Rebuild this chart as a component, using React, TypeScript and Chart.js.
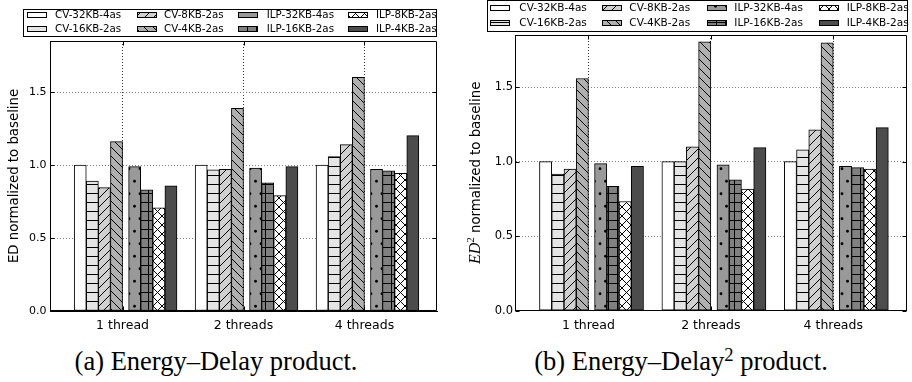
import React, { useEffect, useRef } from 'react';
import { Chart, registerables } from 'chart.js';

Chart.register(...registerables);

// ---------- data ----------
const categories = ['1 thread', '2 threads', '4 threads'];
const seriesLabels = [
  'CV-32KB-4as', 'CV-16KB-2as', 'CV-8KB-2as', 'CV-4KB-2as',
  'ILP-32KB-4as', 'ILP-16KB-2as', 'ILP-8KB-2as', 'ILP-4KB-2as',
];
const yTickValues = [0, 0.5, 1.0, 1.5];
const yMax = 1.85;

// Energy-Delay product (ED)
const edCV32 = [1.0, 1.0, 1.0];
const edCV16 = [0.89, 0.968, 1.058];
const edCV8 = [0.845, 0.97, 1.14];
const edCV4 = [1.161, 1.388, 1.601];
const edILP32 = [0.989, 0.979, 0.97];
const edILP16 = [0.83, 0.879, 0.961];
const edILP8 = [0.707, 0.791, 0.943];
const edILP4 = [0.858, 0.989, 1.202];

// Energy-Delay^2 product (ED2)
const ed2CV32 = [1.0, 1.0, 1.0];
const ed2CV16 = [0.917, 1.0, 1.079];
const ed2CV8 = [0.951, 1.099, 1.213];
const ed2CV4 = [1.558, 1.805, 1.798];
const ed2ILP32 = [0.987, 0.978, 0.969];
const ed2ILP16 = [0.834, 0.879, 0.96];
const ed2ILP8 = [0.733, 0.816, 0.951];
const ed2ILP4 = [0.969, 1.094, 1.229];

const edSeries = [edCV32, edCV16, edCV8, edCV4, edILP32, edILP16, edILP8, edILP4];
const ed2Series = [ed2CV32, ed2CV16, ed2CV8, ed2CV4, ed2ILP32, ed2ILP16, ed2ILP8, ed2ILP4];

// ---------- styles ----------
const fills = ['#ffffff', '#e5e5e5', '#d0d0d0', '#b0b0b0', '#999999', '#808080', '#ffffff', '#4c4c4c'];
const hatches = ['', '-', '/', '\\', '.', '+', 'x', ''];
const SANS = '"DejaVu Sans", sans-serif';
const SERIF = '"Liberation Serif", "DejaVu Serif", serif';

function barOffset(k: number): number {
  return k < 4 ? -0.35 + 0.1 * k : 0.1 + 0.1 * (k - 4);
}

function makeHatch(ctx: CanvasRenderingContext2D, kind: string, bg: string): CanvasPattern | string {
  if (!kind) return bg;
  let w = 9, h = 9;
  if (kind === '.') { w = 11; h = 25; }
  const c = document.createElement('canvas');
  c.width = w; c.height = h;
  const g = c.getContext('2d')!;
  g.fillStyle = bg; g.fillRect(0, 0, w, h);
  g.strokeStyle = '#000'; g.fillStyle = '#000'; g.lineWidth = 1;
  const slash = () => {
    g.beginPath();
    g.moveTo(-1, h + 1); g.lineTo(w + 1, -1);
    g.moveTo(-2, 2); g.lineTo(2, -2);
    g.moveTo(w - 2, h + 2); g.lineTo(w + 2, h - 2);
    g.stroke();
  };
  const back = () => {
    g.beginPath();
    g.moveTo(-1, -1); g.lineTo(w + 1, h + 1);
    g.moveTo(w - 2, -2); g.lineTo(w + 2, 2);
    g.moveTo(-2, h - 2); g.lineTo(2, h + 2);
    g.stroke();
  };
  if (kind === '-') g.fillRect(0, 4, w, 1);
  else if (kind === '+') { g.fillRect(0, 4, w, 1); g.fillRect(4, 0, 1, h); }
  else if (kind === '/') slash();
  else if (kind === '\\') back();
  else if (kind === 'x') { slash(); back(); }
  else if (kind === '.') {
    g.beginPath(); g.arc(2.5, 6.25, 1.4, 0, Math.PI * 2); g.fill();
    g.beginPath(); g.arc(8, 18.75, 1.4, 0, Math.PI * 2); g.fill();
  }
  return ctx.createPattern(c, 'repeat') || bg;
}

type PanelCfg = {
  left: number; width: number; height: number;
  area: { left: number; top: number; right: number; bottom: number };
  series: number[][];
  legend: { box: number[]; swatchX: number[]; textX: number[]; rowY: number[]; font: number };
  titleX: number;
  squared: boolean;
  yTickFont: number;
  yTickPad: number;
};

const leftCfg: PanelCfg = {
  left: 0, width: 460, height: 340,
  area: { left: 50, top: 41, right: 437, bottom: 311 },
  series: edSeries,
  legend: { box: [22.7, 8.5, 436, 35.5], swatchX: [27.3, 137.3, 238.3, 347.7], textX: [55, 164, 266.7, 376], rowY: [14.8, 28.6], font: 10.3 },
  titleX: 12.5,
  squared: false,
  yTickFont: 11,
  yTickPad: 3.5,
};

const rightCfg: PanelCfg = {
  left: 460, width: 452, height: 340,
  area: { left: 55, top: 35, right: 446.7, bottom: 310.7 },
  series: ed2Series,
  legend: { box: [26.7, 0, 446.7, 30.7], swatchX: [30, 141.7, 246.7, 359], textX: [59.3, 169.3, 274.3, 386.7], rowY: [7.5, 22.5], font: 10.5 },
  titleX: 15,
  squared: true,
  yTickFont: 11.5,
  yTickPad: 2,
};

function Panel({ cfg }: { cfg: PanelCfg }) {
  const ref = useRef<HTMLCanvasElement>(null);
  useEffect(() => {
    const canvas = ref.current!;
    const ctx = canvas.getContext('2d')!;
    const a = cfg.area;
    const pxPerUnit = (a.right - a.left) / 3.2;
    const patterns = seriesLabels.map((_, k) => makeHatch(ctx, hatches[k], fills[k]));

    const datasets = seriesLabels.map((label, k) => ({
      label,
      data: cfg.series[k].map((v, i) => ({ x: i + barOffset(k), y: v })),
      backgroundColor: patterns[k] as any,
      borderColor: '#000',
      borderWidth: 1,
      borderSkipped: false as any,
      barThickness: pxPerUnit * 0.1,
      grouped: false,
    }));

    const framePlugin = {
      id: 'frame',
      afterDatasetsDraw(chart: any) {
        const c = chart.ctx as CanvasRenderingContext2D;
        const ca = chart.chartArea;
        const L = Math.round(ca.left) + 0.5, R = Math.round(ca.right) - 0.5;
        const T = Math.round(ca.top) + 0.5, B = Math.round(ca.bottom) - 0.5;
        c.save();
        c.strokeStyle = '#000';
        c.lineWidth = 1;
        c.beginPath();
        c.rect(L, T, R - L, B - T);
        const ys = chart.scales.y;
        for (const t of ys.ticks) {
          const y = Math.round(ys.getPixelForValue(t.value)) + 0.5;
          c.moveTo(L, y); c.lineTo(L + 4, y);
          c.moveTo(R, y); c.lineTo(R - 4, y);
        }
        const xs = chart.scales.x;
        for (const t of xs.ticks) {
          const x = Math.round(xs.getPixelForValue(t.value)) + 0.5;
          c.moveTo(x, T); c.lineTo(x, T + 4);
          c.moveTo(x, B); c.lineTo(x, B - 4);
        }
        c.stroke();
        c.restore();
      },
    };

    const legendPlugin = {
      id: 'customLegend',
      afterDraw(chart: any) {
        const c = chart.ctx as CanvasRenderingContext2D;
        const lg = cfg.legend;
        c.save();
        const [x0, y0, x1, y1] = lg.box;
        c.fillStyle = '#fff';
        c.fillRect(x0, y0, x1 - x0, y1 - y0);
        c.strokeStyle = '#000';
        c.lineWidth = 1;
        c.strokeRect(Math.round(x0) + 0.5, Math.round(y0) + 0.5, Math.round(x1 - x0), Math.round(y1 - y0));
        c.font = `${lg.font}px ${SANS}`;
        c.textBaseline = 'middle';
        c.textAlign = 'left';
        for (let col = 0; col < 4; col++) {
          for (let row = 0; row < 2; row++) {
            const k = col * 2 + row;
            const sx = Math.round(lg.swatchX[col]);
            const sy = Math.round(lg.rowY[row] - 3);
            c.fillStyle = patterns[k] as any;
            c.fillRect(sx, sy, 20, 6);
            c.strokeStyle = '#000';
            c.strokeRect(sx + 0.5, sy + 0.5, 19, 5);
            c.fillStyle = '#000';
            c.fillText(seriesLabels[k], lg.textX[col], lg.rowY[row] + 0.5);
          }
        }
        c.restore();
      },
    };

    const titlePlugin = {
      id: 'yTitle',
      afterDraw(chart: any) {
        const c = chart.ctx as CanvasRenderingContext2D;
        const ca = chart.chartArea;
        const cy = (ca.top + ca.bottom) / 2;
        c.save();
        c.translate(cfg.titleX, cy);
        c.rotate(-Math.PI / 2);
        c.fillStyle = '#000';
        c.textBaseline = 'alphabetic';
        c.textAlign = 'left';
        const parts: { t: string; f: string; dy: number }[] = cfg.squared
          ? [
              { t: 'ED', f: `italic 16px ${SERIF}`, dy: 0 },
              { t: '2', f: `11px ${SERIF}`, dy: -6 },
              { t: ' normalized to baseline', f: `13.3px ${SANS}`, dy: 0 },
            ]
          : [{ t: 'ED normalized to baseline', f: `13.3px ${SANS}`, dy: 0 }];
        let total = 0;
        for (const p of parts) { c.font = p.f; total += c.measureText(p.t).width; }
        let x = -total / 2;
        for (const p of parts) {
          c.font = p.f;
          c.fillText(p.t, x, 5 + p.dy);
          x += c.measureText(p.t).width;
        }
        c.restore();
      },
    };

    const chart = new Chart(canvas, {
      type: 'bar',
      data: { datasets: datasets as any },
      options: {
        animation: false,
        responsive: false,
        maintainAspectRatio: false,
        events: [],
        layout: { padding: { left: 0, top: a.top, right: cfg.width - a.right, bottom: 0 } },
        plugins: { legend: { display: false }, tooltip: { enabled: false }, title: { display: false } },
        scales: {
          x: {
            type: 'linear',
            min: -0.6,
            max: 2.6,
            offset: false,
            ticks: {
              stepSize: 1,
              includeBounds: false,
              autoSkip: false,
              maxRotation: 0,
              padding: 7.5,
              color: '#000',
              font: { family: SANS, size: 12.5 },
              callback: (v: any) => categories[Number(v)] ?? '',
            },
            grid: { color: '#333', lineWidth: 1, drawTicks: false, offset: false },
            border: { display: true, color: '#000', width: 1, dash: [1, 2] },
            afterFit: (s: any) => { s.height = cfg.height - a.bottom; },
          },
          y: {
            type: 'linear',
            min: 0,
            max: yMax,
            afterBuildTicks: (s: any) => { s.ticks = yTickValues.map((v) => ({ value: v })); },
            ticks: {
              stepSize: 0.5,
              includeBounds: false,
              padding: cfg.yTickPad,
              color: '#000',
              font: { family: SANS, size: cfg.yTickFont },
              callback: (v: any) => Number(v).toFixed(1),
            },
            grid: { color: '#808080', lineWidth: 1, drawTicks: false },
            border: { display: true, color: '#000', width: 1, dash: [1, 2] },
            afterFit: (s: any) => { s.width = a.left; },
          },
        },
      } as any,
      plugins: [framePlugin, legendPlugin, titlePlugin],
    });
    return () => chart.destroy();
  }, [cfg]);
  return (
    <canvas
      ref={ref}
      width={cfg.width}
      height={cfg.height}
      style={{ position: 'absolute', left: cfg.left, top: 0, width: cfg.width, height: cfg.height }}
    />
  );
}

const captionStyle: React.CSSProperties = {
  position: 'absolute',
  top: 347.8,
  fontFamily: SERIF,
  fontSize: 26.5,
  lineHeight: '26.5px',
  textAlign: 'center',
  whiteSpace: 'nowrap',
  color: '#000',
};

export default function App() {
  return (
    <div style={{ position: 'absolute', left: 0, top: 0, width: 912, height: 382, background: '#fff', overflow: 'hidden' }}>
      <Panel cfg={leftCfg} />
      <Panel cfg={rightCfg} />
      <div style={{ ...captionStyle, left: 216 - 200, width: 400 }}>(a) Energy–Delay product.</div>
      <div style={{ ...captionStyle, left: 681 - 200, width: 400 }}>
        (b) Energy–Delay<span style={{ fontSize: '0.7em', position: 'relative', top: '-0.5em' }}>2</span> product.
      </div>
    </div>
  );
}
